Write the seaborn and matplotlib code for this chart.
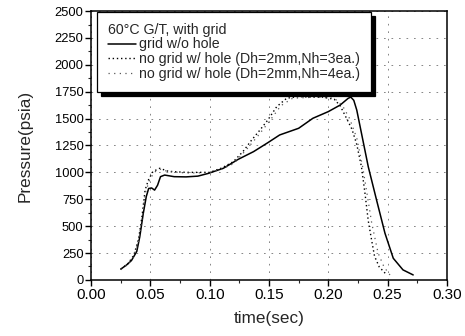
# Pressure traces, 60C G/T with grid
import pandas as pd
import matplotlib
matplotlib.use("Agg")
import matplotlib.pyplot as plt
import seaborn as sns
from matplotlib.ticker import MultipleLocator

# grid w/o hole (solid)
t_solid = [0.025, 0.030, 0.034, 0.0385, 0.041, 0.044, 0.0465, 0.0485, 0.051, 0.0535,
           0.056, 0.0585, 0.062, 0.070, 0.080, 0.090, 0.099, 0.1115, 0.124, 0.137,
           0.149, 0.159, 0.175, 0.187, 0.200, 0.210, 0.2168, 0.219, 0.2215, 0.224,
           0.228, 0.2337, 0.2407, 0.2478, 0.2548, 0.263, 0.2716]
p_solid = [100, 140, 180, 265, 400, 620, 775, 850, 855, 835,
           880, 960, 975, 960, 958, 965, 991, 1038, 1121, 1193,
           1276, 1348, 1410, 1503, 1565, 1626, 1689, 1700, 1670, 1580,
           1363, 1053, 743, 434, 201, 93, 46]

# no grid w/ hole, Nh=3
t_nh3 = [0.025, 0.031, 0.036, 0.040, 0.043, 0.0455, 0.0483, 0.052, 0.0578, 0.065,
         0.080, 0.090, 0.100, 0.110, 0.120, 0.128, 0.1354, 0.1424, 0.149, 0.1565,
         0.165, 0.175, 0.185, 0.195, 0.205, 0.210, 0.2155, 0.220, 0.224, 0.228,
         0.231, 0.2337, 0.2365, 0.239, 0.243, 0.249]
p_nh3 = [100, 150, 230, 380, 600, 836, 929, 1007, 1038, 1010,
         1000, 1000, 1000, 1040, 1100, 1193, 1301, 1394, 1487, 1611,
         1690, 1705, 1700, 1700, 1680, 1620, 1500, 1400, 1260, 1050,
         800, 550, 372, 220, 120, 50]

# no grid w/ hole, Nh=4
t_nh4 = [0.025, 0.031, 0.036, 0.040, 0.043, 0.046, 0.049, 0.053, 0.058, 0.066,
         0.080, 0.090, 0.100, 0.110, 0.120, 0.130, 0.140, 0.150, 0.160, 0.170,
         0.190, 0.205, 0.212, 0.218, 0.224, 0.229, 0.233, 0.2366, 0.242, 0.247, 0.252]
p_nh4 = [95, 145, 220, 360, 580, 820, 920, 1000, 1030, 1005,
         995, 995, 1000, 1030, 1080, 1200, 1330, 1470, 1620, 1690,
         1700, 1690, 1620, 1500, 1320, 1050, 780, 530, 250, 120, 46]

labels = ["grid w/o hole",
          "no grid w/ hole (Dh=2mm,Nh=3ea.)",
          "no grid w/ hole (Dh=2mm,Nh=4ea.)"]

sns.set_theme(style="ticks")
plt.rcParams["font.family"] = ["Liberation Sans", "DejaVu Sans"]

fig, ax = plt.subplots(figsize=(4.65, 3.36), dpi=100)
fig.subplots_adjust(left=0.196, right=0.961, bottom=0.167, top=0.967)

sns.lineplot(x=t_solid, y=p_solid, ax=ax, color="black", linewidth=1.1,
             label=labels[0], sort=False)
sns.lineplot(x=t_nh3, y=p_nh3, ax=ax, color="black", linewidth=1.0,
             linestyle=(0, (1, 2)), label=labels[1], sort=False)
sns.lineplot(x=t_nh4, y=p_nh4, ax=ax, color="0.35", linewidth=0.9,
             linestyle=(0, (1, 3.5)), label=labels[2], sort=False)

ax.set_xlim(0, 0.30)
ax.set_ylim(0, 2500)
ax.xaxis.set_major_locator(MultipleLocator(0.05))
ax.xaxis.set_minor_locator(MultipleLocator(0.025))
ax.yaxis.set_major_locator(MultipleLocator(250))
ax.yaxis.set_minor_locator(MultipleLocator(125))
ax.xaxis.set_major_formatter(plt.FormatStrFormatter("%.2f"))
ax.tick_params(which="major", direction="out", length=4, width=1,
               pad=1.5, colors="black")
ax.tick_params(axis="x", which="major", labelsize=11, pad=2)
ax.tick_params(axis="y", which="major", labelsize=9.3)
ax.tick_params(which="minor", direction="out", length=2, width=0.8)
ax.grid(True, which="major", color="0.45", linestyle=(0, (2, 7)), linewidth=0.6)
for s in ax.spines.values():
    s.set_visible(True)
    s.set_color("black")
    s.set_linewidth(1.1)

ax.set_xlabel("time(sec)", fontsize=12.3, labelpad=6.5)
ax.set_ylabel("Pressure(psia)", fontsize=12.3, labelpad=16)

leg = ax.legend(loc="upper left", bbox_to_anchor=(0.017, 0.996),
                title="60\u00b0C G/T, with grid",
                fontsize=10.2, title_fontsize=10.2, alignment="left",
                frameon=True, fancybox=False, handlelength=2.0,
                handletextpad=0.2, labelspacing=0.05, borderpad=0.75,
                borderaxespad=0,
                shadow={"color": "black", "alpha": 1, "ox": 3, "oy": -3})
leg.get_frame().set_edgecolor("black")
leg.get_frame().set_linewidth(0.9)
leg.get_frame().set_facecolor("white")
leg.get_frame().set_alpha(1)

fig.savefig("out.png", dpi=100)
